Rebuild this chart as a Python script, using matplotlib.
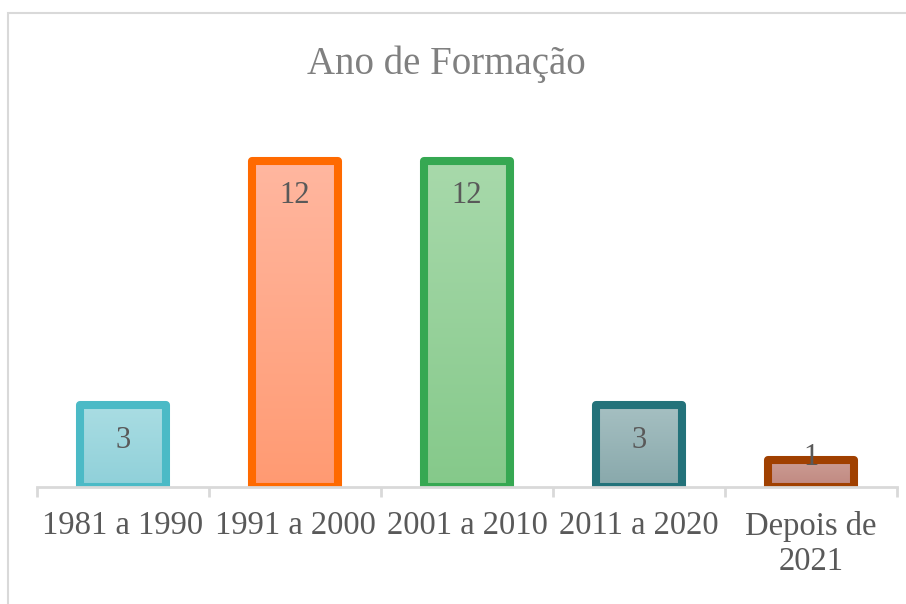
import matplotlib.pyplot as plt
import numpy as np
from matplotlib.colors import LinearSegmentedColormap
from matplotlib.patches import Rectangle

# data
categories = ["1981 a 1990", "1991 a 2000", "2001 a 2010", "2011 a 2020", "Depois de\n2021"]
values = [3, 12, 12, 3, 1]
title = "Ano de Formação"

# colours: edge, face top, face bottom
edge_colors = ["#4BBAC6", "#FF6A00", "#36A852", "#23727A", "#A04000"]
face_top = ["#AADDE3", "#FFB7A0", "#A8D9AB", "#A6C0C2", "#CC9D94"]
face_bottom = ["#8FD0D9", "#FF9A72", "#85C98A", "#88A8AB", "#C08880"]

plt.rcParams['font.family'] = ['Liberation Serif', 'DejaVu Serif']

fig = plt.figure(figsize=(9.06, 6.04), dpi=100)
W, H = 906, 604
ax = fig.add_axes([37 / W, (H - 487) / H, (897 - 37) / W, (487 - 100) / H])

x = np.arange(len(categories))
bar_w = 0.50
ymax = (487 - 100) / 27.2
ax.set_xlim(-0.5, len(categories) - 0.5)
ax.set_ylim(0, ymax)

bars = ax.bar(x, values, width=bar_w, facecolor='none', edgecolor=edge_colors,
              linewidth=5.8, joinstyle='round', zorder=3)

# gradient fill, clipped to each bar
grad = np.linspace(0, 1, 256).reshape(-1, 1)
for b, top, bot in zip(bars, face_top, face_bottom):
    cmap = LinearSegmentedColormap.from_list("g", [top, bot])
    x0, y0 = b.get_x(), b.get_y()
    im = ax.imshow(grad, cmap=cmap, aspect='auto', zorder=2,
                   extent=[x0, x0 + b.get_width(), y0, y0 + b.get_height()],
                   origin='upper')
    im.set_clip_path(b)

# data labels
for xi, v in zip(x, values):
    off = -25 if v >= 2 else 2
    ax.annotate(str(v), (xi, v), xytext=(0, off), textcoords='offset points',
                ha='center', va='center', fontsize=22, color='#595959', zorder=4)

# axis styling
for s in ['top', 'right', 'left']:
    ax.spines[s].set_visible(False)
ax.spines['bottom'].set_color('#D9D9D9')
ax.spines['bottom'].set_linewidth(2)
ax.spines['bottom'].set_zorder(4)
ax.set_yticks([])
ax.set_xticks(np.arange(-0.5, len(categories)), minor=False)
ax.set_xticklabels([])
ax.tick_params(axis='x', which='major', length=7, width=2, color='#D9D9D9')
ax.set_xticks(x, minor=True)
ax.set_xticklabels(categories, minor=True, fontsize=23.5, color='#595959',
                   linespacing=1.2)
ax.tick_params(axis='x', which='minor', length=0, pad=17)

fig.text(446 / W, 1 - 64 / H, title, ha='center', va='center', fontsize=28, color='#808080')

# chart frame
fig.patches.append(Rectangle((8 / W, -0.1), 1.2, 1 - 13 / H + 0.1, transform=fig.transFigure,
                             fill=False, edgecolor='#D9D9D9', linewidth=1.5))

fig.savefig("out.png", dpi=100)
